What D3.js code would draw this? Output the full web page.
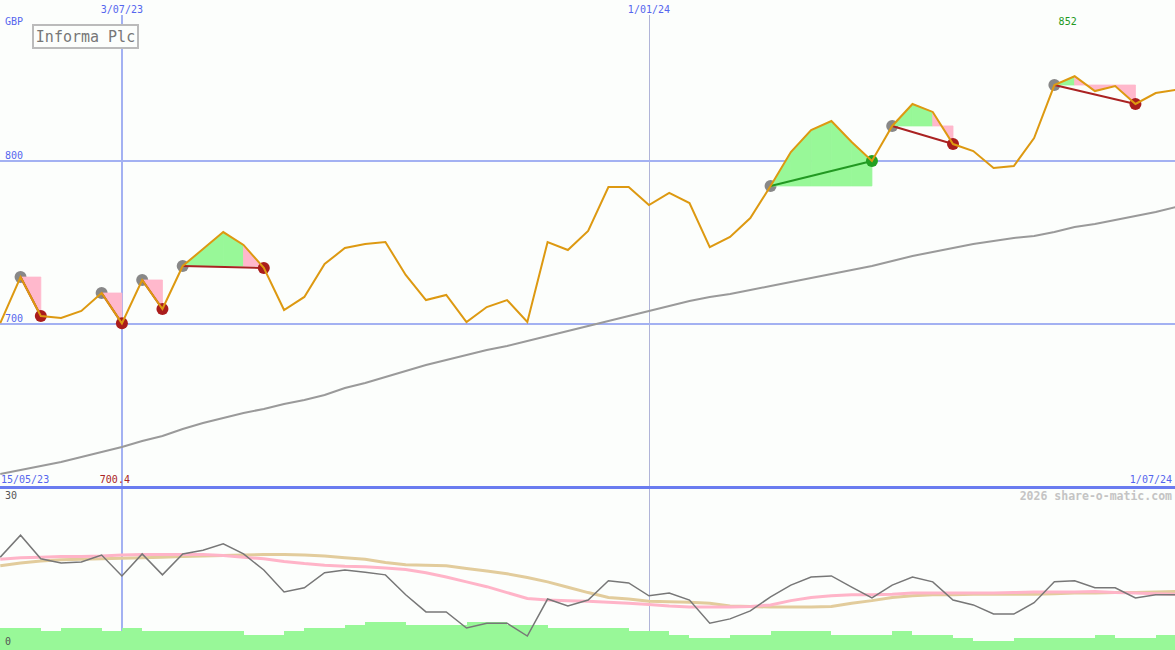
<!DOCTYPE html>
<html><head><meta charset="utf-8">
<script src="https://cdn.jsdelivr.net/npm/d3@7"></script>
<style>html,body{margin:0;padding:0;background:#fcfefc;overflow:hidden}</style>
</head><body>
<svg id="c" width="1175" height="650"></svg>
<script>
const title = "Informa Plc";
const currency = "GBP";
const watermark = "2026 share-o-matic.com";
const dates = ["2023-05-22","2023-05-29","2023-06-05","2023-06-12","2023-06-19","2023-06-26","2023-07-03","2023-07-10","2023-07-17","2023-07-24","2023-07-31","2023-08-07","2023-08-14","2023-08-21","2023-08-28","2023-09-04","2023-09-11","2023-09-18","2023-09-25","2023-10-02","2023-10-09","2023-10-16","2023-10-23","2023-10-30","2023-11-06","2023-11-13","2023-11-20","2023-11-27","2023-12-04","2023-12-11","2023-12-18","2023-12-25","2024-01-01","2024-01-08","2024-01-15","2024-01-22","2024-01-29","2024-02-05","2024-02-12","2024-02-19","2024-02-26","2024-03-04","2024-03-11","2024-03-18","2024-03-25","2024-04-01","2024-04-08","2024-04-15","2024-04-22","2024-04-29","2024-05-06","2024-05-13","2024-05-20","2024-05-27","2024-06-03","2024-06-10","2024-06-17","2024-06-24","2024-07-01"];
const price = [700.6,728.8,704.9,703.7,708.0,719.0,700.4,727.0,709.2,735.6,746.0,756.4,748.5,734.4,708.6,716.6,736.8,746.6,749.1,750.3,730.1,714.7,717.8,701.2,710.4,714.7,701.2,750.3,745.4,757.1,784.0,784.0,773.0,780.4,774.2,747.2,753.4,765.0,784.7,805.5,819.0,824.5,811.7,800.0,821.5,835.0,830.1,810.4,806.1,795.7,796.9,814.1,846.6,852.0,842.9,846.0,835.0,841.7,843.6];
const movingAvg = [608.0,610.4,612.9,615.3,618.4,621.5,624.5,628.2,631.3,635.6,639.3,642.3,645.4,647.9,650.9,653.4,656.4,660.7,663.8,667.5,671.2,674.8,677.9,681.0,684.0,686.5,689.6,692.6,695.7,698.8,701.8,704.9,708.0,711.0,714.1,716.6,718.4,720.9,723.3,725.8,728.2,730.7,733.1,735.6,738.7,741.7,744.2,746.6,749.1,750.9,752.8,754.0,756.4,759.5,761.3,763.8,766.3,768.7,771.8];
const oscGray = [17.3,21.4,17.0,16.2,16.4,17.7,13.8,17.9,14.0,17.9,18.6,19.8,17.9,14.9,10.8,11.6,14.4,14.9,14.5,14.0,10.3,7.1,7.1,4.1,5.0,5.0,2.6,9.5,8.2,9.3,12.9,12.5,10.1,10.6,9.3,5.0,5.8,7.3,9.9,12.1,13.6,13.8,11.7,9.7,12.1,13.6,12.7,9.3,8.4,6.7,6.7,8.8,12.7,12.9,11.6,11.6,9.7,10.3,10.3];
const oscPink = [16.9,17.2,17.3,17.4,17.4,17.5,17.7,17.8,17.8,17.8,17.8,17.6,17.3,17.0,16.5,16.1,15.8,15.6,15.5,15.3,15.0,14.4,13.6,12.7,11.8,10.7,9.6,9.3,9.2,9.1,8.9,8.7,8.5,8.2,8.0,8.0,8.0,8.1,8.4,9.2,9.8,10.1,10.3,10.3,10.4,10.6,10.6,10.6,10.6,10.6,10.7,10.8,10.8,10.8,10.9,10.7,10.6,10.5,10.4];
const oscTan = [15.7,16.2,16.6,16.8,16.9,17.0,17.1,17.2,17.3,17.4,17.5,17.6,17.7,17.8,17.8,17.7,17.5,17.2,16.9,16.3,15.9,15.8,15.7,15.2,14.7,14.2,13.5,12.7,11.7,10.7,9.8,9.5,9.1,9.0,8.9,8.7,8.2,8.1,8.0,8.0,8.0,8.1,8.7,9.2,9.8,10.1,10.3,10.3,10.4,10.4,10.4,10.4,10.5,10.6,10.6,10.7,10.7,10.8,10.9];
const volume = [4.1,4.1,3.5,4.1,4.1,3.5,4.1,3.5,3.5,3.5,3.5,3.5,2.8,2.8,3.5,4.1,4.1,4.7,5.2,5.2,4.7,4.7,4.7,5.2,5.2,4.7,4.7,4.1,4.1,4.1,4.1,3.5,3.5,2.8,2.2,2.2,2.8,2.8,3.5,3.5,3.5,2.8,2.8,2.8,3.5,2.8,2.8,2.2,1.7,1.7,2.2,2.2,2.2,2.2,2.8,2.2,2.2,2.8,2.8];
const tradeEntries = [1,5,7,9,38,44,52];
const tradeExits = [2,6,8,13,43,47,56];
const priceTicks = [700, 800];
const dateTicks = ["2023-07-03","2024-01-01"];
const cornerDates = ["2023-05-15","2024-07-01"];
const cornerLabels = ["15/05/23","1/07/24"];
const dateTickLabels = ["3/07/23","1/01/24"];
const lowerTicks = [30, 0];

const parse = d3.timeParse("%Y-%m-%d");
const D = dates.map(parse);
const W = 1175, H = 650;
const svg = d3.select("#c");
const FONT = "'DejaVu Sans Mono', monospace";

const x = d3.scaleTime().domain(cornerDates.map(parse)).range([-20, 1176]);
const y = d3.scaleLinear().domain([600, 900]).range([487, -2]);
const yl = d3.scaleLinear().domain([0, 30]).range([650, 489]);

svg.append("rect").attr("width", W).attr("height", H).attr("fill", "#fcfefc");

dateTicks.forEach((d, i) => {
  svg.append("line").attr("x1", Math.round(x(parse(d)))).attr("x2", Math.round(x(parse(d))))
    .attr("y1", 15).attr("y2", 650)
    .attr("stroke", i === 0 ? "#a3b1f2" : "#b0b4d8").attr("stroke-width", i === 0 ? 2 : 1)
    .attr("shape-rendering", "crispEdges");
  svg.append("text").attr("x", x(parse(d))).attr("y", 13).attr("text-anchor", "middle")
    .attr("font-family", FONT).attr("font-size", 10).attr("fill", "#5566ee").text(dateTickLabels[i]);
});

priceTicks.forEach(v => {
  svg.append("line").attr("x1", 0).attr("x2", W).attr("y1", Math.round(y(v))).attr("y2", Math.round(y(v)))
    .attr("stroke", "#a3b1f2").attr("stroke-width", 2).attr("shape-rendering", "crispEdges");
  svg.append("text").attr("x", 5).attr("y", Math.round(y(v)) - 2)
    .attr("font-family", FONT).attr("font-size", 10).attr("fill", "#5566ee").text(v);
});

svg.append("line").attr("x1", 0).attr("x2", W).attr("y1", Math.round(y(600))).attr("y2", Math.round(y(600)))
  .attr("stroke", "#6a7cf0").attr("stroke-width", 3).attr("shape-rendering", "crispEdges");

svg.append("path").datum(movingAvg)
  .attr("d", d3.line().x((d, i) => x(D[i])).y(d => y(d)))
  .attr("fill", "none").attr("stroke", "#9a9a9a").attr("stroke-width", 2);

const g = svg.append("g");
tradeEntries.forEach(e => {
  g.append("circle").attr("cx", x(D[e])).attr("cy", y(price[e])).attr("r", 6).attr("fill", "#888888");
});

tradeEntries.forEach((e, t) => {
  const ex = tradeExits[t];
  const lvl = price[e];
  for (let k = e; k < ex; k++) {
    const pts = [[x(D[k]), y(lvl)], [x(D[k]), y(price[k])], [x(D[k+1]), y(price[k+1])], [x(D[k+1]), y(lvl)]];
    const col = price[k+1] >= lvl ? "#98f898" : "#ffb8cc";
    g.append("path").attr("d", "M" + pts.map(p => p.join(",")).join("L") + "Z")
      .attr("fill", col).attr("stroke", col).attr("stroke-width", 0.8).attr("stroke-linejoin", "miter");
  }
});

tradeEntries.forEach((e, t) => {
  const ex = tradeExits[t];
  const win = price[ex] > price[e];
  g.append("line").attr("x1", x(D[e])).attr("y1", y(price[e])).attr("x2", x(D[ex])).attr("y2", y(price[ex]))
    .attr("stroke", win ? "#229922" : "#aa2222").attr("stroke-width", 2);
});
tradeEntries.forEach((e, t) => {
  const ex = tradeExits[t];
  const win = price[ex] > price[e];
  g.append("circle").attr("cx", x(D[ex])).attr("cy", y(price[ex])).attr("r", 6).attr("fill", win ? "#22a022" : "#aa1c1c");
});

svg.append("path").datum(price)
  .attr("d", d3.line().x((d, i) => x(D[i])).y(d => y(d)))
  .attr("fill", "none").attr("stroke", "#dd9911").attr("stroke-width", 2);

svg.append("rect").attr("x", 33).attr("y", 25).attr("width", 105).attr("height", 23)
  .attr("fill", "#fcfefc").attr("stroke", "#bbbbbb").attr("stroke-width", 2);
svg.append("text").attr("x", 85.5).attr("y", 42).attr("text-anchor", "middle")
  .attr("font-family", FONT).attr("font-size", 15).attr("fill", "#777777").text(title);
svg.append("text").attr("x", 5).attr("y", 25).attr("font-family", FONT).attr("font-size", 10)
  .attr("fill", "#5566ee").text(currency);

const hi = d3.maxIndex(price), lo = d3.minIndex(price);
svg.append("text").attr("x", x(D[hi]) - 7).attr("y", 25).attr("text-anchor", "middle")
  .attr("font-family", FONT).attr("font-size", 10).attr("fill", "#229922").text(price[hi]);
svg.append("text").attr("x", x(D[lo]) - 7).attr("y", 483).attr("text-anchor", "middle")
  .attr("font-family", FONT).attr("font-size", 10).attr("fill", "#aa2222").text(price[lo].toFixed(1));

svg.append("text").attr("x", 1).attr("y", 483).attr("font-family", FONT).attr("font-size", 10)
  .attr("fill", "#5566ee").text(cornerLabels[0]);
svg.append("text").attr("x", 1172).attr("y", 483).attr("text-anchor", "end").attr("font-family", FONT)
  .attr("font-size", 10).attr("fill", "#5566ee").text(cornerLabels[1]);

svg.append("text").attr("x", 1172).attr("y", 500).attr("text-anchor", "end").attr("font-family", FONT)
  .attr("font-size", 11.5).attr("font-weight", "bold").attr("fill", "#c4c4c4").text(watermark);

const step = x(D[1]) - x(D[0]);
volume.forEach((v, i) => {
  const x0 = Math.round(x(D[i]));
  const x1 = Math.round(i < D.length - 1 ? x(D[i+1]) : x(D[i]) + step);
  svg.append("rect").attr("x", x0).attr("width", x1 - x0).attr("y", Math.round(yl(v)))
    .attr("height", 650 - Math.round(yl(v))).attr("fill", "#98f898").attr("shape-rendering", "crispEdges");
});
const ll = d3.line().x((d, i) => x(D[i])).y(d => yl(d));
svg.append("path").datum(oscTan).attr("d", ll).attr("fill", "none").attr("stroke", "#e2cc9c").attr("stroke-width", 3);
svg.append("path").datum(oscPink).attr("d", ll).attr("fill", "none").attr("stroke", "#ffb4c8").attr("stroke-width", 3);
svg.append("path").datum(oscGray).attr("d", ll).attr("fill", "none").attr("stroke", "#777777").attr("stroke-width", 1.5);

lowerTicks.forEach(v => {
  svg.append("text").attr("x", 5).attr("y", v === 0 ? 645 : 499)
    .attr("font-family", FONT).attr("font-size", 10).attr("fill", "#555555").text(v);
});
</script>
</body></html>
